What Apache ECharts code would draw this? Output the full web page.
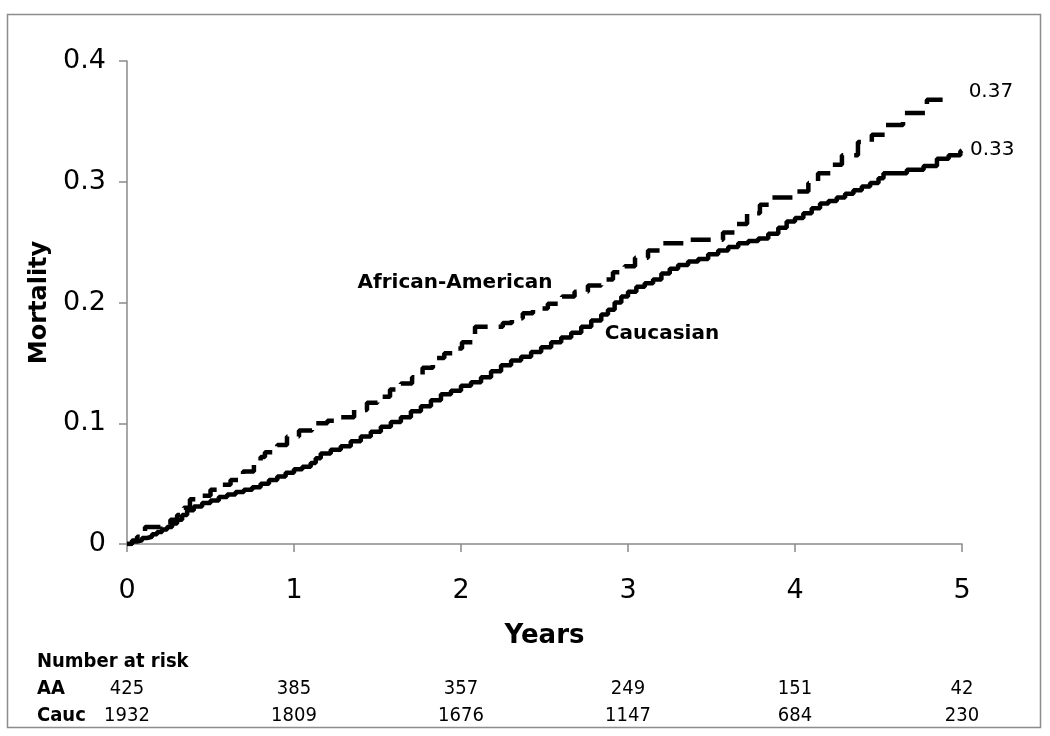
<!DOCTYPE html>
<html>
<head>
<meta charset="utf-8">
<script src="https://cdn.jsdelivr.net/npm/echarts@6/dist/echarts.min.js"></script>
<style>
html,body{margin:0;padding:0;background:#fff;}
#chart{width:1050px;height:736px;}
</style>
</head>
<body>
<div id="chart"></div>
<script>
// ---- data ----
const seriesNames = ['African-American', 'Caucasian'];
const endLabels = ['0.37', '0.33'];

const aaYears = [0, 0.03, 0.06, 0.09, 0.108, 0.20, 0.26, 0.30, 0.34, 0.377, 0.45, 0.50, 0.539, 0.62, 0.695, 0.76, 0.80, 0.826, 0.90, 0.958, 1.03, 1.108, 1.20, 1.275, 1.36, 1.437, 1.50, 1.575, 1.64, 1.707, 1.77, 1.832, 1.90, 1.96, 2.006, 2.084, 2.25, 2.305, 2.37, 2.431, 2.52, 2.605, 2.68, 2.76, 2.84, 2.91, 2.98, 3.042, 3.12, 3.204, 3.371, 3.569, 3.64, 3.713, 3.79, 3.850, 4.012, 4.08, 4.138, 4.22, 4.281, 4.377, 4.46, 4.539, 4.647, 4.790, 4.950];
const aaMortality = [0, 0.003, 0.006, 0.010, 0.014, 0.016, 0.020, 0.024, 0.030, 0.037, 0.040, 0.045, 0.049, 0.053, 0.060, 0.066, 0.072, 0.076, 0.082, 0.089, 0.094, 0.100, 0.102, 0.105, 0.111, 0.117, 0.122, 0.128, 0.133, 0.138, 0.146, 0.154, 0.158, 0.162, 0.167, 0.180, 0.183, 0.187, 0.191, 0.195, 0.199, 0.205, 0.209, 0.214, 0.219, 0.225, 0.230, 0.237, 0.243, 0.249, 0.252, 0.258, 0.265, 0.274, 0.281, 0.287, 0.292, 0.299, 0.307, 0.314, 0.322, 0.333, 0.339, 0.347, 0.357, 0.368, 0.368];

const caucYears = [0, 0.03, 0.06, 0.09, 0.12, 0.15, 0.18, 0.21, 0.24, 0.27, 0.30, 0.33, 0.36, 0.40, 0.45, 0.50, 0.55, 0.60, 0.65, 0.70, 0.75, 0.80, 0.85, 0.90, 0.95, 1.00, 1.05, 1.10, 1.13, 1.16, 1.22, 1.28, 1.34, 1.40, 1.46, 1.52, 1.58, 1.64, 1.70, 1.76, 1.82, 1.88, 1.94, 2.00, 2.06, 2.12, 2.18, 2.24, 2.30, 2.36, 2.42, 2.48, 2.54, 2.60, 2.66, 2.72, 2.78, 2.84, 2.88, 2.92, 2.96, 3.00, 3.05, 3.10, 3.15, 3.20, 3.25, 3.30, 3.36, 3.42, 3.48, 3.54, 3.60, 3.66, 3.72, 3.78, 3.84, 3.90, 3.95, 4.00, 4.05, 4.10, 4.15, 4.20, 4.25, 4.30, 4.35, 4.40, 4.45, 4.50, 4.53, 4.67, 4.77, 4.85, 4.92, 4.99, 5.00];
const caucMortality = [0, 0.002, 0.003, 0.005, 0.006, 0.008, 0.010, 0.012, 0.014, 0.017, 0.020, 0.024, 0.028, 0.031, 0.034, 0.036, 0.039, 0.041, 0.043, 0.045, 0.047, 0.050, 0.053, 0.056, 0.059, 0.062, 0.064, 0.067, 0.071, 0.075, 0.078, 0.081, 0.085, 0.089, 0.093, 0.097, 0.101, 0.105, 0.110, 0.114, 0.119, 0.124, 0.127, 0.131, 0.134, 0.138, 0.143, 0.148, 0.152, 0.155, 0.159, 0.163, 0.167, 0.171, 0.175, 0.180, 0.185, 0.190, 0.194, 0.200, 0.205, 0.209, 0.213, 0.216, 0.219, 0.224, 0.228, 0.231, 0.234, 0.236, 0.240, 0.243, 0.246, 0.249, 0.251, 0.253, 0.257, 0.262, 0.267, 0.270, 0.274, 0.278, 0.282, 0.284, 0.287, 0.290, 0.293, 0.296, 0.299, 0.303, 0.307, 0.310, 0.313, 0.319, 0.322, 0.325, 0.326];

const riskYears = [0, 1, 2, 3, 4, 5];
const riskAA = [425, 385, 357, 249, 151, 42];
const riskCauc = [1932, 1809, 1676, 1147, 684, 230];
const riskRowLabels = ['Number at risk', 'AA', 'Cauc'];

// ---- chart ----
const FONT = "'DejaVu Sans', Verdana, sans-serif";
const FONT_COND = "'DejaVu Sans Condensed', 'DejaVu Sans', sans-serif";
const AXIS_GRAY = '#8a8a8a';

function pairs(xs, ys) { return xs.map((x, i) => [x, ys[i]]); }
function riskLookup(arr) {
  return function (v) {
    const i = riskYears.indexOf(Math.round(v));
    return i >= 0 ? String(arr[i]) : '';
  };
}

const chart = echarts.init(document.getElementById('chart'), null, { renderer: 'canvas' });

const riskAxisBase = {
  type: 'value', min: 0, max: 5, interval: 1, position: 'bottom',
  axisLine: { show: false }, axisTick: { show: false }, splitLine: { show: false },
};

const option = {
  backgroundColor: '#fff',
  animation: false,
  grid: { left: 127, right: 88, top: 61, bottom: 192, containLabel: false },
  xAxis: [
    {
      type: 'value', min: 0, max: 5, interval: 1, position: 'bottom',
      name: 'Years', nameLocation: 'middle', nameGap: 79,
      nameTextStyle: { fontFamily: FONT, fontSize: 26, fontWeight: 'bold', color: '#000' },
      axisLine: { show: true, onZero: false, lineStyle: { color: AXIS_GRAY, width: 1.5 } },
      axisTick: { show: true, inside: false, length: 8, lineStyle: { color: AXIS_GRAY, width: 1.5 } },
      axisLabel: { fontFamily: FONT, fontSize: 27, color: '#000', margin: 33 },
      splitLine: { show: false }
    },
    Object.assign({}, riskAxisBase, {
      offset: 135,
      axisLabel: { formatter: riskLookup(riskAA), fontFamily: FONT_COND, fontSize: 20, color: '#000', margin: 0 }
    }),
    Object.assign({}, riskAxisBase, {
      offset: 162,
      axisLabel: { formatter: riskLookup(riskCauc), fontFamily: FONT_COND, fontSize: 20, color: '#000', margin: 0 }
    })
  ],
  yAxis: {
    type: 'value', min: 0, max: 0.4, interval: 0.1,
    name: 'Mortality', nameLocation: 'middle', nameGap: 75, nameRotate: 90,
    nameTextStyle: { fontFamily: FONT, fontSize: 24, fontWeight: 'bold', color: '#000' },
    axisLine: { show: true, lineStyle: { color: AXIS_GRAY, width: 1.5 } },
    axisTick: { show: true, inside: false, length: 8, lineStyle: { color: AXIS_GRAY, width: 1.5 } },
    axisLabel: {
      fontFamily: FONT, fontSize: 27, color: '#000', margin: 21,
      formatter: v => (v === 0 ? '0' : v.toFixed(1))
    },
    splitLine: { show: false }
  },
  series: [
    {
      name: seriesNames[0], type: 'line', step: 'end', xAxisIndex: 0,
      data: pairs(aaYears, aaMortality), symbol: 'none',
      lineStyle: { color: '#000', width: 4.5, type: [20, 11], cap: 'butt' },
      endLabel: { show: true, formatter: endLabels[0], fontFamily: FONT, fontSize: 20, color: '#000', distance: 15, offset: [0, -8] },
      z: 3
    },
    {
      name: seriesNames[1], type: 'line', step: 'end', xAxisIndex: 0,
      data: pairs(caucYears, caucMortality), symbol: 'none',
      lineStyle: { color: '#000', width: 4.5, type: 'solid' },
      endLabel: { show: true, formatter: endLabels[1], fontFamily: FONT, fontSize: 20, color: '#000', distance: 8, offset: [0, -1] },
      z: 3
    }
  ],
  graphic: [
    { type: 'rect', silent: true, z: -1, shape: { x: 7.5, y: 14.5, width: 1033, height: 713 },
      style: { fill: 'none', stroke: '#8c8c8c', lineWidth: 1.5 } },
    { type: 'text', x: 455, y: 283, style: { text: seriesNames[0], font: "bold 20px 'DejaVu Sans'", fill: '#000', align: 'center', verticalAlign: 'middle' } },
    { type: 'text', x: 662, y: 334, style: { text: seriesNames[1], font: "bold 20px 'DejaVu Sans'", fill: '#000', align: 'center', verticalAlign: 'middle' } },
    { type: 'text', x: 37, y: 662, style: { text: riskRowLabels[0], font: "bold 20px 'DejaVu Sans Condensed', 'DejaVu Sans'", fill: '#000', align: 'left', verticalAlign: 'middle' } },
    { type: 'text', x: 37, y: 689, style: { text: riskRowLabels[1], font: "bold 20px 'DejaVu Sans Condensed', 'DejaVu Sans'", fill: '#000', align: 'left', verticalAlign: 'middle' } },
    { type: 'text', x: 37, y: 716, style: { text: riskRowLabels[2], font: "bold 20px 'DejaVu Sans Condensed', 'DejaVu Sans'", fill: '#000', align: 'left', verticalAlign: 'middle' } }
  ]
};

chart.setOption(option);
</script>
</body>
</html>
